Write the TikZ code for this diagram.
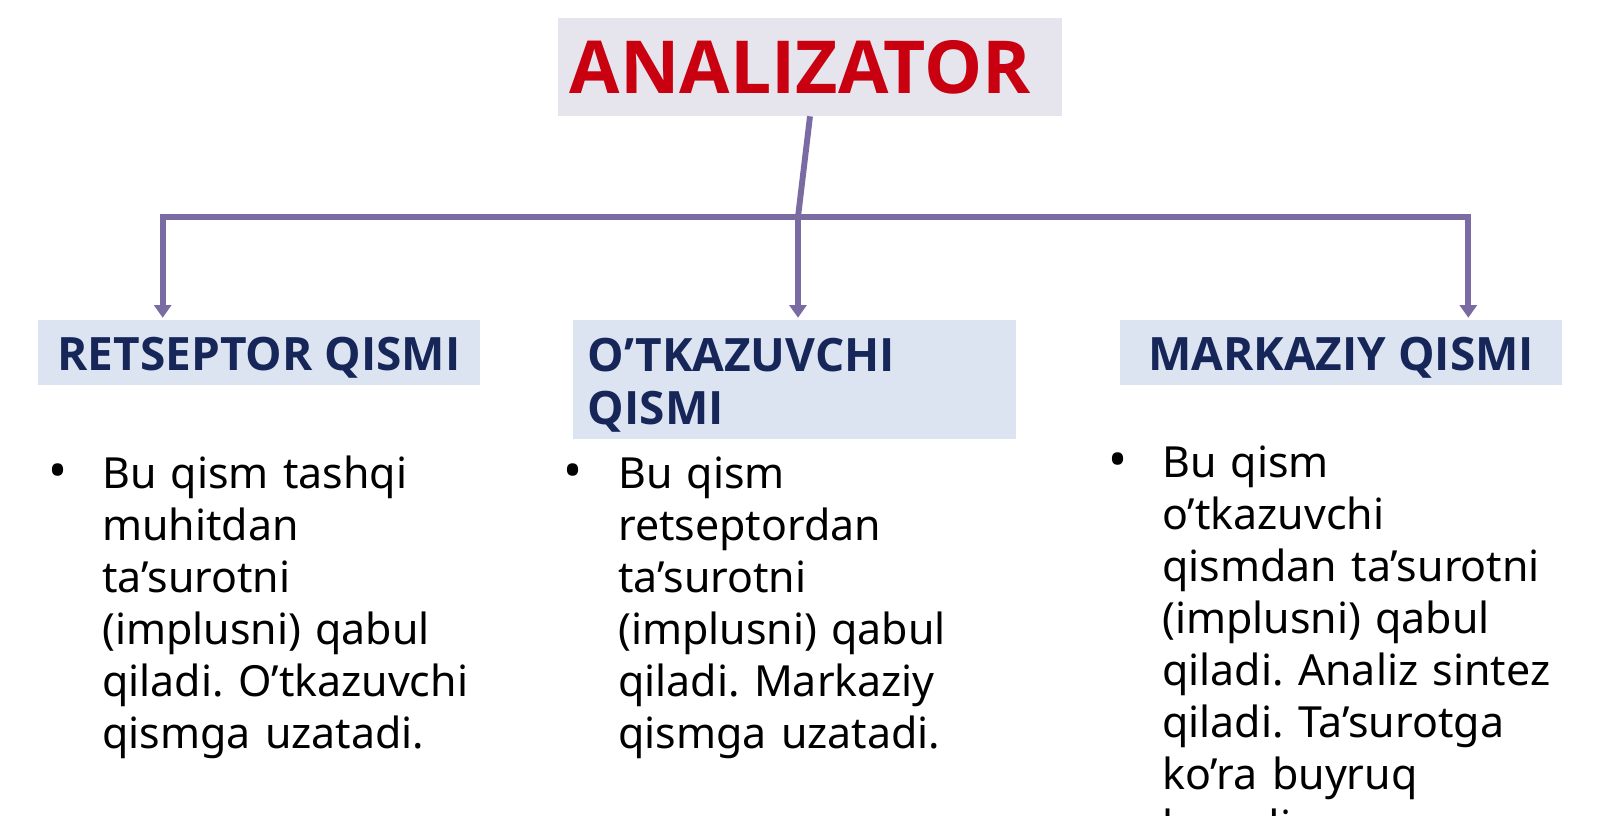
\documentclass[tikz,border=0pt]{standalone}
\usepackage{fontspec}
\setmainfont{Noto Sans}
\newfontfamily\headfont{Open Sans}
\usepackage{tikz}
\usetikzlibrary{positioning,arrows.meta}
\usepackage{xcolor}
\definecolor{titlered}{HTML}{C8000F}
\definecolor{titlebg}{HTML}{E6E5EE}
\definecolor{headbg}{HTML}{DCE4F1}
\definecolor{headtxt}{HTML}{172658}
\definecolor{linkcol}{HTML}{7B6BA3}
\frenchspacing

\begin{document}
\begin{tikzpicture}[x=0.025cm,y=-0.025cm,>={Triangle[width=12pt,length=9pt]},
        link/.style={draw=linkcol,line width=4.2pt},
        headbox/.style={fill=headbg,text=headtxt,font=\headfont\bfseries\fontsize{32.7}{37.7}\selectfont,
                minimum width=11.05cm,minimum height=1.625cm,inner sep=0pt,
                text height=27pt,text depth=2.1pt},
        body/.style={anchor=base west,text width=10cm,align=left,inner sep=0pt,
                font=\fontsize{30.5}{37}\selectfont},
        dot/.style={anchor=base,inner sep=0pt,font=\fontsize{36}{37}\selectfont}]
        \useasboundingbox (0,0) rectangle (1600,816);

        \node[fill=titlebg,text=titlered,font=\headfont\bfseries\fontsize{52}{60}\selectfont,
                minimum height=2.45cm,text width=12cm,inner xsep=0.3cm,align=left] (analizator) at (810,67) {ANALIZATOR};

        \node[headbox] (retseptor) at (259,352.5) {RETSEPTOR QISMI};
        \node[headbox,minimum height=2.975cm,text width=10.325cm,inner xsep=0.375cm,align=left,
                text height=24pt,text depth=36pt] (otkazuvchi) at (794.5,379.5) {O’TKAZUVCHI\\QISMI};
        \node[headbox] (markaziy) at (1341,352.5) {MARKAZIY QISMI};

        \coordinate (hub) at (798,217);
        \draw[link] (analizator.south) -- (hub);
        \draw[link,->] (hub) -| ([xshift=3.125cm,yshift=1.4pt]retseptor.north west);
        \draw[link,->] (hub) -- ([yshift=1.4pt]otkazuvchi.north -| hub);
        \draw[link,->] (hub) -| ([xshift=-2.35cm,yshift=1.4pt]markaziy.north east);

        \node[dot] (b1) at (58,488) {•};
        \node[body] (t1) at (102,488) {Bu qism tashqi\\muhitdan\\ta’surotni\\(implusni) qabul\\qiladi. O’tkazuvchi\\qismga uzatadi.};

        \node[dot] (b2) at (573,488) {•};
        \node[body] (t2) at (618,488) {Bu qism\\retseptordan\\ta’surotni\\(implusni) qabul\\qiladi. Markaziy\\qismga uzatadi.};

        \node[dot] (b3) at (1118,477) {•};
        \node[body] (t3) at (1162,477) {Bu qism\\o’tkazuvchi\\qismdan ta’surotni\\(implusni) qabul\\qiladi. Analiz sintez\\qiladi. Ta’surotga\\ko’ra buyruq\\beradi.};
\end{tikzpicture}
\end{document}
